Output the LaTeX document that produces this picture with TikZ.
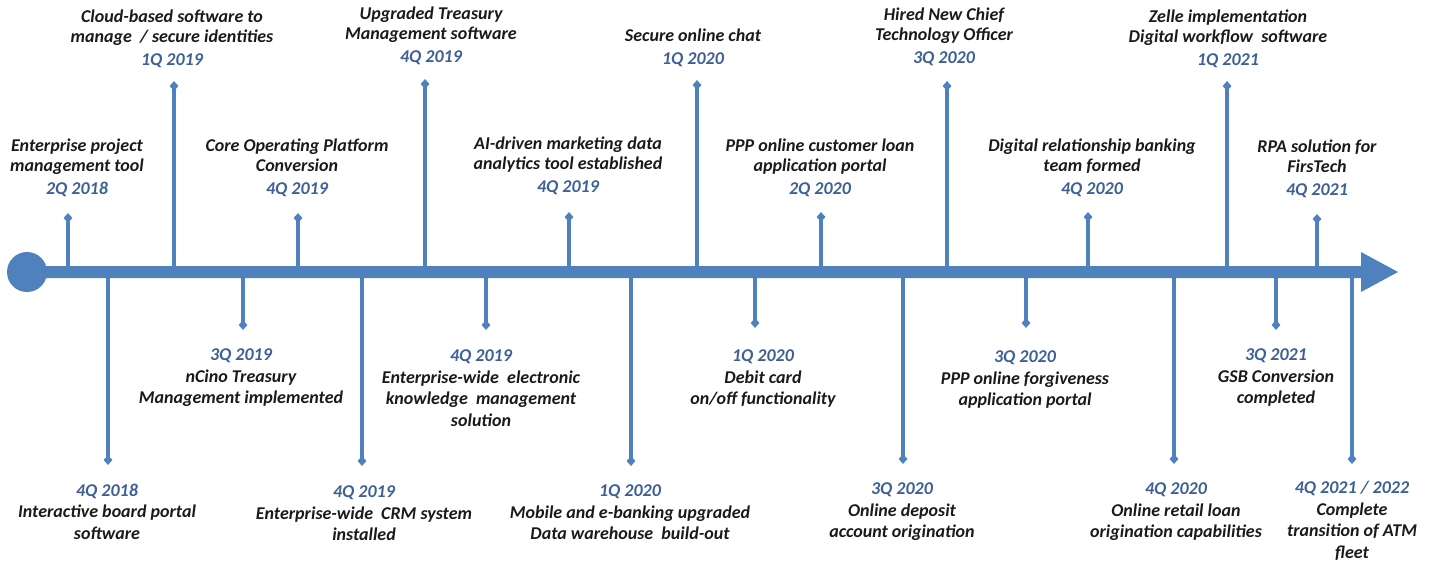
\documentclass[tikz,border=0pt]{standalone}
\usepackage{fontspec}
\setmainfont{Carlito}
\usetikzlibrary{shapes.geometric}
\definecolor{lineblue}{HTML}{4F81BD}
\definecolor{datec}{HTML}{3E6096}
\definecolor{txt}{HTML}{1A1A1A}
\newcommand\qdate[1]{\textcolor{datec}{#1}}
\newcommand\lblstrut{\rule{0pt}{15pt}}
\begin{document}
\begin{tikzpicture}[x=1pt,y=-1pt,
  stemline/.style={draw=lineblue, line width=4pt},
  tipmark/.style={diamond, fill=lineblue, inner sep=0pt, minimum width=9pt, minimum height=10pt},
  uplbl/.style={align=center, font=\fontsize{18}{20}\selectfont\bfseries\itshape, text=txt, inner sep=0pt, anchor=north},
  dnlbl/.style={align=center, font=\fontsize{18}{21.5}\selectfont\bfseries\itshape, text=txt, inner sep=0pt, anchor=north}
]
\useasboundingbox (0,0) rectangle (1431,565);

% time axis with start dot and arrow head
\fill[lineblue] (27,266) -- (1361,266) -- (1361,252) -- (1398,272)
  -- (1361,292) -- (1361,278) -- (27,278) -- cycle;
\node[circle, fill=lineblue, minimum size=40pt, inner sep=0pt] (origin) at (27,272) {};

% stems: name / x / end point
\foreach \n/\x/\y in {u1/68/218, u2/174/86, u3/298/218, u4/425/84, u5/569/217,
    u6/697/85, u7/821/217, u8/947/86, u9/1088/217, u10/1227/86, u11/1317/219,
    d1/108/460, d2/243/325, d3/362/461, d4/486/325, d5/631/461, d6/755/323,
    d7/903/459, d8/1026/323, d9/1174/459, d10/1276/325, d11/1352/459} {
  \coordinate (\n a) at (\x,272);
  \node[tipmark] (\n t) at (\x,\y) {};
  \draw[stemline] (\n a) -- (\n t.center);
}

% milestones above the axis
\node[uplbl] (l-u1) at (77,136) {\lblstrut Enterprise project\\ management tool\\[3pt] \qdate{2Q 2018}};
\node[uplbl] (l-u2) at (172,7) {\lblstrut Cloud-based software to\\ manage\ \ / secure identities\\[3pt] \qdate{1Q 2019}};
\node[uplbl] (l-u3) at (297,136) {\lblstrut Core Operating Platform\\ Conversion\\[3pt] \qdate{4Q 2019}};
\node[uplbl] (l-u4) at (431,4) {\lblstrut Upgraded Treasury\\ Management software\\[3pt] \qdate{4Q 2019}};
\node[uplbl] (l-u5) at (568,134) {\lblstrut AI-driven marketing data\\ analytics tool established\\[3pt] \qdate{4Q 2019}};
\node[uplbl] (l-u6) at (693,26) {\lblstrut Secure online chat\\[3pt] \qdate{1Q 2020}};
\node[uplbl] (l-u7) at (820,136) {\lblstrut PPP online customer loan\\ application portal\\[3pt] \qdate{2Q 2020}};
\node[uplbl] (l-u8) at (944,5) {\lblstrut Hired New Chief\\ Technology Officer\\[3pt] \qdate{3Q 2020}};
\node[uplbl] (l-u9) at (1092,136) {\lblstrut Digital relationship banking\\ team formed\\[3pt] \qdate{4Q 2020}};
\node[uplbl] (l-u10) at (1228,7) {\lblstrut Zelle implementation\\ Digital workflow\ \ software\\[3pt] \qdate{1Q 2021}};
\node[uplbl] (l-u11) at (1317,137) {\lblstrut RPA solution for\\ FirsTech\\[3pt] \qdate{4Q 2021}};

% milestones below the axis
\node[dnlbl] (l-d1) at (107,481) {\lblstrut\qdate{4Q 2018}\\ Interactive board portal\\ software};
\node[dnlbl] (l-d2) at (241,345.5) {\lblstrut\qdate{3Q 2019}\\ nCino Treasury\\ Management implemented};
\node[dnlbl] (l-d3) at (364,482.5) {\lblstrut\qdate{4Q 2019}\\ Enterprise-wide\ \ CRM system\\ installed};
\node[dnlbl] (l-d4) at (481,346.5) {\lblstrut\qdate{4Q 2019}\\ Enterprise-wide\ \ electronic\\ knowledge\ \ management\\ solution};
\node[dnlbl] (l-d5) at (630,481.5) {\lblstrut\qdate{1Q 2020}\\ Mobile and e-banking upgraded\\ Data warehouse\ \ build-out};
\node[dnlbl] (l-d6) at (763,346.5) {\lblstrut\qdate{1Q 2020}\\ Debit card\\ on/off functionality};
\node[dnlbl] (l-d7) at (902,479.5) {\lblstrut\qdate{3Q 2020}\\ Online deposit\\ account origination};
\node[dnlbl] (l-d8) at (1025,347.5) {\lblstrut\qdate{3Q 2020}\\ PPP online forgiveness\\ application portal};
\node[dnlbl] (l-d9) at (1176,479.5) {\lblstrut\qdate{4Q 2020}\\ Online retail loan\\ origination capabilities};
\node[dnlbl] (l-d10) at (1276,345.5) {\lblstrut\qdate{3Q 2021}\\ GSB Conversion\\ completed};
\node[dnlbl] (l-d11) at (1352,478.5) {\lblstrut\qdate{4Q 2021 / 2022}\\ Complete\\ transition of ATM\\ fleet};
\end{tikzpicture}
\end{document}
